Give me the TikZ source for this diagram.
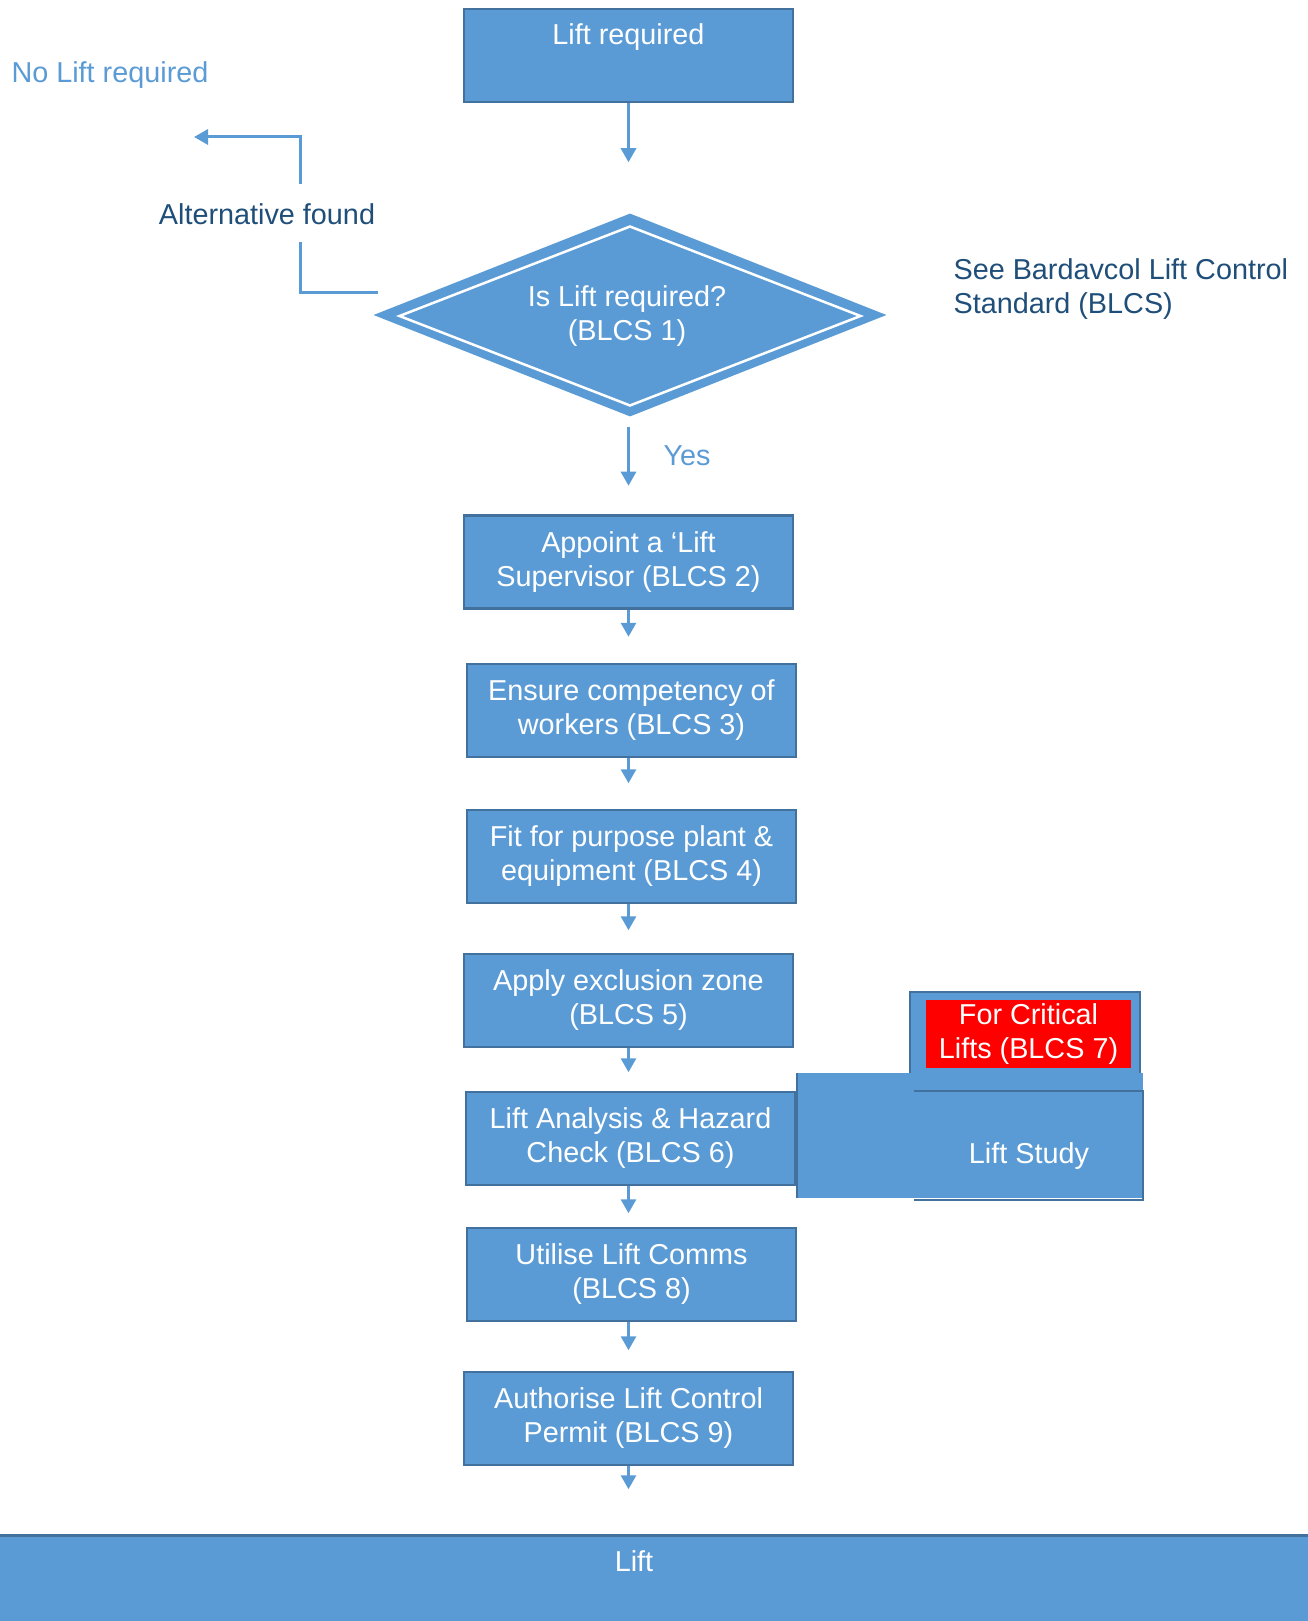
\documentclass[tikz,border=0pt]{standalone}
\usepackage{fontspec}
\setmainfont{Liberation Sans}
\usetikzlibrary{arrows.meta,shapes.geometric}

\definecolor{liftblue}{HTML}{5B9BD5}
\definecolor{liftedge}{HTML}{41719C}
\definecolor{liftdark}{HTML}{1F4E79}
\definecolor{liftred}{HTML}{FF0000}

\tikzset{
  stepbox/.style={rectangle, draw=liftedge, fill=liftblue, line width=2.5pt,
    minimum width=329pt, minimum height=93pt, inner sep=0pt,
    text=white, align=center},
  flowarrow/.style={draw=liftblue, line width=3pt, -{Triangle[width=15pt,length=14pt]}},
  flowline/.style={draw=liftblue, line width=3pt},
}

\begin{document}
\begin{tikzpicture}[x=1pt, y=-1pt, font=\fontsize{28.8}{34}\selectfont]
        \useasboundingbox (0,0) rectangle (1308,1621);

        % Start
        \node[stepbox, text height=36pt, text depth=57pt] (lift) at (628.5,55.5) {Lift required};
        \draw[flowarrow] (lift.south) -- ++(0,59);

        % Decision (BLCS 1)
        \node[diamond, fill=liftblue, inner sep=0pt, minimum width=513pt, minimum height=203pt] (dec) at (630,315) {};
        \node[diamond, draw=white, line width=2.5pt, inner sep=0pt, minimum width=462pt, minimum height=180pt] (decin) at (630,316) {};
        \node[text=white, align=center] (decq) at (627,316) {Is Lift required?\\(BLCS 1)};
        \node[text=liftdark, align=left, anchor=west] (blcs) at (950,289) {See Bardavcol Lift Control\\Standard (BLCS)};

        % No lift branch
        \node[text=liftblue, anchor=west] (nolift) at (8,75) {No Lift required};
        \node[text=liftdark] (alt) at (267,214) {Alternative found};
        \coordinate (alta) at (378,292);
        \coordinate (altb) at (300,242);
        \coordinate (altc) at (300,184);
        \coordinate (altd) at (194,137);
        \draw[flowline] (alta) -| (altb);
        \draw[flowarrow] (altc) |- (altd);

        % Yes branch
        \draw[flowarrow, shorten <=10pt] (dec.south -| lift.south) -- ++(0,69);
        \node[text=liftblue] (yes) at (687,456) {Yes};

        % Steps BLCS 2 - 6
        \node[stepbox] (appoint) at (628.5,562) {Appoint a ‘Lift\\Supervisor (BLCS 2)};
        \draw[flowarrow] (appoint.south) -- ++(0,27);
        \node[stepbox] (ensure) at (631.5,710.5) {Ensure competency of\\workers (BLCS 3)};
        \draw[flowarrow] (ensure.south -| lift.south) -- ++(0,25);
        \node[stepbox] (fit) at (631.5,856.5) {Fit for purpose plant \&\\equipment (BLCS 4)};
        \draw[flowarrow] (fit.south -| lift.south) -- ++(0,26);
        \node[stepbox] (apply) at (628.5,1000.5) {Apply exclusion zone\\(BLCS 5)};
        \draw[flowarrow] (apply.south) -- ++(0,24);
        \node[stepbox] (analysis) at (630.5,1138.5) {Lift Analysis \& Hazard\\Check (BLCS 6)};
        \draw[flowarrow] (analysis.south -| lift.south) -- ++(0,27);

        % Critical lifts (BLCS 7)
        \node[rectangle, draw=liftedge, fill=liftblue, line width=2.5pt, minimum width=230pt, minimum height=83pt, inner sep=0pt] (crit) at (1025,1033.5) {};
        \node[rectangle, fill=liftred, minimum width=205pt, minimum height=68pt, inner sep=0pt, text=white, align=center] (critred) at (1028.5,1034) {\raisebox{-3pt}{For Critical}\\\raisebox{-3pt}{Lifts (BLCS 7)}};

        % Lift study
        \fill[liftblue] (796,1073) rectangle (1143,1198);
        \draw[liftedge, line width=2pt] (797,1073) -- (797,1198);
        \draw[liftedge, line width=2.5pt] (914,1091) -- (1143,1091) -- (1143,1200) -- (914,1200);
        \node[text=white] (study) at (1029,1156) {Lift Study};

        % Steps BLCS 8 - 9
        \node[stepbox] (comms) at (631.5,1274.5) {Utilise Lift Comms\\(BLCS 8)};
        \draw[flowarrow] (comms.south -| lift.south) -- ++(0,28);
        \node[stepbox] (permit) at (628.5,1418.5) {Authorise Lift Control\\Permit (BLCS 9)};
        \draw[flowarrow] (permit.south) -- ++(0,23);

        % Lift
        \fill[liftblue] (0,1535) rectangle (1308,1621);
        \draw[liftedge, line width=3pt] (0,1535) -- (1308,1535);
        \node[text=white] (done) at (634,1561) {Lift};
    \end{tikzpicture}
\end{document}
